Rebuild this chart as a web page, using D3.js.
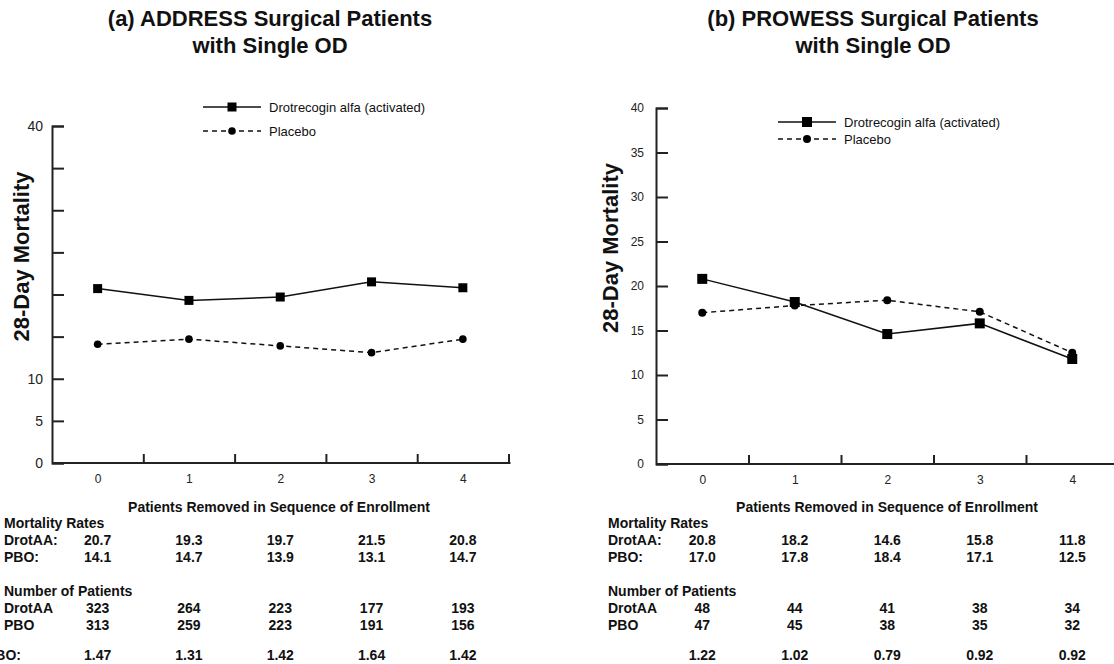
<!DOCTYPE html>
<html>
<head>
<meta charset="utf-8">
<script src="https://cdn.jsdelivr.net/npm/d3@7"></script>
<style>
  html, body { margin: 0; padding: 0; background: #fff; }
  svg { display: block; font-family: "Liberation Sans", Arial, Helvetica, sans-serif; }
</style>
</head>
<body>
<svg id="chart" width="1114" height="664"></svg>
<script>
// Number of patients removed (in sequence of enrollment)
const removed = [0, 1, 2, 3, 4];

// y-axis ticks and which of them carry a label
const yTickValues = [0, 5, 10, 15, 20, 25, 30, 35, 40];
const addressYLabels = [0, 5, 10, 40];
const prowessYLabels = [0, 5, 10, 15, 20, 25, 30, 35, 40];

const seriesNames = ["Drotrecogin alfa (activated)", "Placebo"];

// ADDRESS surgical patients with single organ dysfunction
const addressDrotAA = [20.7, 19.3, 19.7, 21.5, 20.8];
const addressPBO = [14.1, 14.7, 13.9, 13.1, 14.7];
const addressNDrotAA = [323, 264, 223, 177, 193];
const addressNPBO = [313, 259, 223, 191, 156];
const addressRatio = ["1.47", "1.31", "1.42", "1.64", "1.42"];

// PROWESS surgical patients with single organ dysfunction
const prowessDrotAA = [20.8, 18.2, 14.6, 15.8, 11.8];
const prowessPBO = [17.0, 17.8, 18.4, 17.1, 12.5];
const prowessNDrotAA = [48, 44, 41, 38, 34];
const prowessNPBO = [47, 45, 38, 35, 32];
const prowessRatio = ["1.22", "1.02", "0.79", "0.92", "0.92"];

const svg = d3.select("#chart");
svg.append("rect").attr("width", 1114).attr("height", 664).attr("fill", "#fff");

const panels = [
  {
    title: ["(a) ADDRESS Surgical Patients", "with Single OD"], titleX: 270,
    drot: addressDrotAA, pbo: addressPBO, nDrot: addressNDrotAA, nPbo: addressNPBO,
    ratio: addressRatio, ratioLabel: "DrotAA/PBO:", ratioLabelEnd: 21,
    yLabels: addressYLabels,
    left: 52, right: 508.5, bottom: 463, top: 126,
    yTitleX: 29, yTickFont: 14, yTickPad: 9,
    legendX: 203, legendY: 107, legendGap: 24,
    labelX: 4, headerX: 279, square: 9, dot: 3.8
  },
  {
    title: ["(b) PROWESS Surgical Patients", "with Single OD"], titleX: 873,
    drot: prowessDrotAA, pbo: prowessPBO, nDrot: prowessNDrotAA, nPbo: prowessNPBO,
    ratio: prowessRatio, ratioLabel: null,
    yLabels: prowessYLabels,
    left: 656, right: 1118.5, bottom: 464, top: 108,
    yTitleX: 618, yTickFont: 12, yTickPad: 12,
    legendX: 778, legendY: 122, legendGap: 17,
    labelX: 608, headerX: 887, square: 10, dot: 4
  }
];

function drawPanel(p) {
  const g = svg.append("g");
  const x = d3.scaleLinear().domain([-0.5, 4.5]).range([p.left, p.right]);
  const y = d3.scaleLinear().domain([0, 40]).range([p.bottom, p.top]);

  // Title
  p.title.forEach((t, i) => {
    g.append("text")
      .attr("x", p.titleX).attr("y", 26 + i * 27)
      .attr("text-anchor", "middle")
      .attr("font-size", 22).attr("font-weight", "bold").attr("fill", "#111")
      .text(t);
  });

  // y axis: ticks point inward
  const yAxis = d3.axisLeft(y)
    .tickValues(yTickValues)
    .tickSize(-12)
    .tickPadding(p.yTickPad)
    .tickFormat(d => p.yLabels.includes(d) ? d : "");
  const ya = g.append("g").attr("transform", `translate(${p.left},0)`).call(yAxis);
  ya.select(".domain").attr("stroke", "#222").attr("stroke-width", 2);
  ya.selectAll(".tick line").attr("stroke", "#222").attr("stroke-width", 2);
  ya.selectAll(".tick text").attr("font-size", p.yTickFont).attr("fill", "#222")
    .attr("font-family", "\"Liberation Sans\", Arial, sans-serif");

  // x axis: separators between categories, pointing up
  const xAxis = d3.axisBottom(x)
    .tickValues([0.5, 1.5, 2.5, 3.5, 4.5])
    .tickSize(-9)
    .tickSizeOuter(0)
    .tickFormat("");
  const xa = g.append("g").attr("transform", `translate(0,${p.bottom})`).call(xAxis);
  xa.select(".domain").attr("stroke", "#222").attr("stroke-width", 2)
    .attr("d", `M${p.left},0H${p.right + 2}`);
  xa.selectAll(".tick line").attr("stroke", "#222").attr("stroke-width", 2);

  // category labels
  const xl = d3.axisBottom(x).tickValues(removed).tickSize(0).tickPadding(11).tickFormat(d3.format("d"));
  const xla = g.append("g").attr("transform", `translate(0,${p.bottom})`).call(xl);
  xla.select(".domain").remove();
  xla.selectAll(".tick text").attr("font-size", 12).attr("fill", "#222")
    .attr("font-family", "\"Liberation Sans\", Arial, sans-serif");

  // y axis title
  g.append("text")
    .attr("transform", `translate(${p.yTitleX},${(p.top + p.bottom) / 2 - 38}) rotate(-90)`)
    .attr("text-anchor", "middle")
    .attr("font-size", 22).attr("font-weight", "bold").attr("fill", "#111")
    .text("28-Day Mortality");

  // series lines
  const line = d3.line().x((d, i) => x(removed[i])).y(d => y(d));
  g.append("path").datum(p.pbo).attr("d", line)
    .attr("fill", "none").attr("stroke", "#111").attr("stroke-width", 1.5)
    .attr("stroke-dasharray", "5,4");
  g.append("path").datum(p.drot).attr("d", line)
    .attr("fill", "none").attr("stroke", "#111").attr("stroke-width", 1.5);

  g.selectAll(".pbo-dot").data(p.pbo).join("circle")
    .attr("cx", (d, i) => x(removed[i])).attr("cy", d => y(d))
    .attr("r", p.dot).attr("fill", "#000");
  g.selectAll(".drot-sq").data(p.drot).join("rect")
    .attr("x", (d, i) => x(removed[i]) - p.square / 2).attr("y", d => y(d) - p.square / 2)
    .attr("width", p.square).attr("height", p.square).attr("fill", "#000");

  // legend
  const lg = g.append("g");
  [0, 1].forEach(k => {
    const ly = p.legendY + k * p.legendGap;
    lg.append("line")
      .attr("x1", p.legendX).attr("x2", p.legendX + 58).attr("y1", ly).attr("y2", ly)
      .attr("stroke", "#111").attr("stroke-width", 1.5)
      .attr("stroke-dasharray", k === 1 ? "5,4" : null);
    if (k === 0) {
      lg.append("rect").attr("x", p.legendX + 29 - p.square / 2).attr("y", ly - p.square / 2)
        .attr("width", p.square).attr("height", p.square).attr("fill", "#000");
    } else {
      lg.append("circle").attr("cx", p.legendX + 29).attr("cy", ly).attr("r", p.dot).attr("fill", "#000");
    }
    lg.append("text").attr("x", p.legendX + 66).attr("y", ly + 4.5)
      .attr("font-size", 13).attr("fill", "#111").text(seriesNames[k]);
  });

  // table beneath the plot
  const tb = g.append("g").attr("font-size", 14).attr("font-weight", "bold").attr("fill", "#111");
  tb.append("text").attr("x", p.headerX).attr("y", 512).attr("text-anchor", "middle")
    .text("Patients Removed in Sequence of Enrollment");
  tb.append("text").attr("x", p.labelX).attr("y", 528).text("Mortality Rates");
  tb.append("text").attr("x", p.labelX).attr("y", 596).text("Number of Patients");

  const rows = [
    { label: "DrotAA:", y: 545, vals: p.drot.map(d => d.toFixed(1)) },
    { label: "PBO:", y: 562, vals: p.pbo.map(d => d.toFixed(1)) },
    { label: "DrotAA", y: 613, vals: p.nDrot.map(String) },
    { label: "PBO", y: 630, vals: p.nPbo.map(String) },
    { label: null, y: 660, vals: p.ratio }
  ];
  rows.forEach(r => {
    if (r.label) tb.append("text").attr("x", p.labelX).attr("y", r.y).text(r.label);
    tb.selectAll(null).data(r.vals).join("text")
      .attr("x", (d, i) => x(removed[i])).attr("y", r.y)
      .attr("text-anchor", "middle").text(d => d);
  });
  if (p.ratioLabel) {
    tb.append("text").attr("x", p.ratioLabelEnd).attr("y", 660)
      .attr("text-anchor", "end").text(p.ratioLabel);
  }
}

panels.forEach(drawPanel);
</script>
</body>
</html>
